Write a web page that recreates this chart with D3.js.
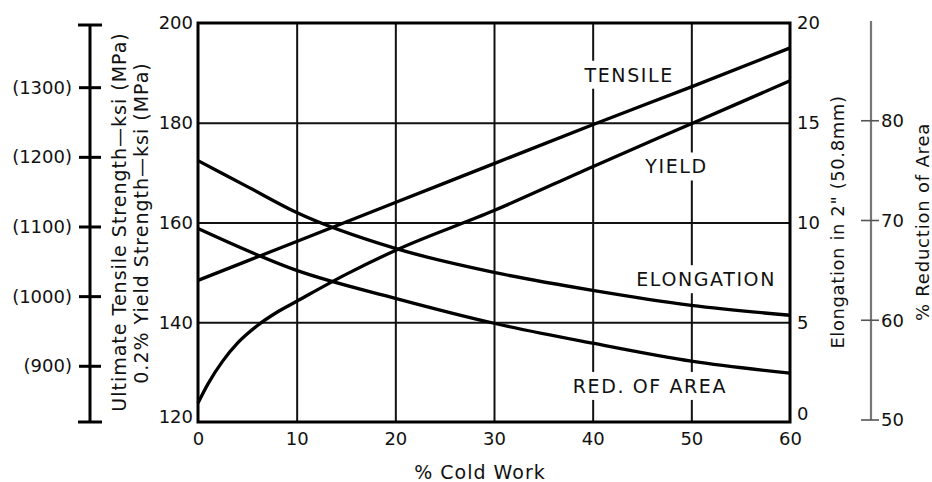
<!DOCTYPE html>
<html>
<head>
<meta charset="utf-8">
<script src="https://cdn.jsdelivr.net/npm/d3@7"></script>
<style>
  body { margin: 0; background: #fff; }
  svg text { font-family: "DejaVu Sans", "Liberation Sans", sans-serif; fill: #111; }
  .axis path.domain { display: none; }
  .grid line { stroke: #111; stroke-width: 2; }
  .curve { fill: none; stroke: #000; stroke-width: 3.3; }
</style>
</head>
<body>
<div class="chart"></div>
<script>
// ---------- DATA
var coldTicks  = [0, 10, 20, 30, 40, 50, 60];
var ksiTicks   = [120, 140, 160, 180, 200];
var elongTicks = [0, 5, 10, 15, 20];
var mpaTicks   = [900, 1000, 1100, 1200, 1300];
var raTicks    = [50, 60, 70, 80];

// tensile strength, ksi
var tensileX   = [0, 10, 20, 30, 40, 50, 60];
var tensileKsi = [148.4, 156.2, 164.0, 171.8, 179.6, 187.2, 195.0];

// 0.2% yield strength, ksi
var yieldX   = [0, 1, 2.5, 4, 6, 8, 10, 15, 20, 30, 40, 50, 60];
var yieldKsi = [123.8, 127.6, 132.2, 135.8, 139.3, 142.0, 144.2, 149.6, 154.4, 162.4, 171.2, 179.8, 188.4];

// elongation in 2", %
var elongX   = [0, 5, 10, 20, 30, 40, 50, 60];
var elongPct = [13.1, 11.8, 10.5, 8.7, 7.5, 6.6, 5.85, 5.35];

// reduction of area, %
var raX   = [0, 10, 20, 30, 40, 50, 60];
var raPct = [69.2, 65.0, 62.2, 59.7, 57.7, 55.9, 54.7];

// curve labels (x in % cold work, y in ksi)
var labelText = ["TENSILE", "YIELD", "ELONGATION", "RED. OF AREA"];
var labelX    = [43.7, 48.5, 51.5, 45.8];
var labelKsi  = [189.6, 171.2, 148.6, 127.2];

// ---------- LAYOUT
var width = 932, height = 482;
var margin = {left: 198, top: 23, right: 142, bottom: 60};
var w = width - margin.left - margin.right;   // 592
var h = height - margin.top - margin.bottom;  // 399

var svg = d3.select(".chart").append("svg")
  .attr("width", width)
  .attr("height", height);

var x = d3.scaleLinear().domain([0, 60]).range([margin.left, margin.left + w]);
var y = d3.scaleLinear().domain([120, 200]).range([margin.top + h, margin.top]);
var yElong = d3.scaleLinear().domain([0, 20]).range([margin.top + h, margin.top]);
var yMpa = d3.scaleLinear().domain([820, 1390]).range([margin.top + h, margin.top + 2]);
var yRa = d3.scaleLinear().domain([50, 90]).range([margin.top + h - 2, margin.top - 2]);

// ---------- GRID
svg.append("g")
  .attr("class", "grid")
  .attr("transform", "translate(0," + (margin.top + h) + ")")
  .call(d3.axisBottom(x).tickValues([10, 20, 30, 40, 50]).tickSize(-h).tickFormat(""))
  .select(".domain").remove();

svg.append("g")
  .attr("class", "grid")
  .attr("transform", "translate(" + margin.left + ",0)")
  .call(d3.axisLeft(y).tickValues([140, 160, 180]).tickSize(-w).tickFormat(""))
  .select(".domain").remove();

// frame
svg.append("rect")
  .attr("x", margin.left).attr("y", margin.top)
  .attr("width", w).attr("height", h)
  .attr("fill", "none").attr("stroke", "#000").attr("stroke-width", 3);

// ---------- CURVES
var line = d3.line()
  .x(function(d) { return x(d[0]); })
  .y(function(d) { return d[1]; })
  .curve(d3.curveMonotoneX);

function pts(xs, ys, scale) {
  return xs.map(function(v, i) { return [v, scale(ys[i])]; });
}

svg.append("path").attr("class", "curve").attr("d", line(pts(tensileX, tensileKsi, y)));
svg.append("path").attr("class", "curve").attr("d", line(pts(yieldX, yieldKsi, y)));
svg.append("path").attr("class", "curve").attr("d", line(pts(elongX, elongPct, yElong)));
svg.append("path").attr("class", "curve").attr("d", line(pts(raX, raPct, yRa)));

// ---------- CURVE LABELS (white boxes cut the grid)
var labels = svg.append("g");
labelText.forEach(function(t, i) {
  var g = labels.append("g");
  var txt = g.append("text")
    .attr("x", x(labelX[i]))
    .attr("y", y(labelKsi[i]))
    .attr("dy", "0.36em")
    .attr("text-anchor", "middle")
    .style("font-size", "19px")
    .style("letter-spacing", "1.6px")
    .text(t);
  var bb = txt.node().getBBox();
  g.insert("rect", "text")
    .attr("x", bb.x - 4).attr("y", bb.y - 3)
    .attr("width", bb.width + 8).attr("height", bb.height + 6)
    .attr("fill", "#fff");
});

// ---------- AXES (labels only)
var xAxis = svg.append("g")
  .attr("class", "axis")
  .attr("transform", "translate(0," + (margin.top + h) + ")")
  .call(d3.axisBottom(x).tickValues(coldTicks).tickSize(0).tickPadding(10));
xAxis.selectAll("text").style("font-size", "18px");

var yAxis = svg.append("g")
  .attr("class", "axis")
  .attr("transform", "translate(" + (margin.left - 4) + ",0)")
  .call(d3.axisLeft(y).tickValues(ksiTicks).tickSize(0).tickPadding(1));
yAxis.selectAll("text").style("font-size", "18px")
  .attr("y", function(d) { return d === 120 ? -5 : 0; });

var eAxis = svg.append("g")
  .attr("class", "axis")
  .attr("transform", "translate(" + (margin.left + w + 6) + ",0)")
  .call(d3.axisRight(yElong).tickValues(elongTicks).tickSize(0).tickPadding(1));
eAxis.selectAll("text").style("font-size", "18px")
  .attr("y", function(d) { return d === 0 ? -8 : 0; });

// MPa axis on the far left
var mpaX = 90;
var mpa = svg.append("g");
mpa.append("line")
  .attr("x1", mpaX).attr("x2", mpaX)
  .attr("y1", yMpa.range()[0]).attr("y2", yMpa.range()[1])
  .attr("stroke", "#000").attr("stroke-width", 3);
mpa.selectAll("line.cap")
  .data(yMpa.range())
  .enter().append("line")
  .attr("class", "cap")
  .attr("x1", mpaX - 12).attr("x2", mpaX + 12)
  .attr("y1", function(d) { return d; }).attr("y2", function(d) { return d; })
  .attr("stroke", "#000").attr("stroke-width", 3);
mpa.selectAll("line.tick")
  .data(mpaTicks)
  .enter().append("line")
  .attr("class", "tick")
  .attr("x1", mpaX - 11).attr("x2", mpaX + 11)
  .attr("y1", function(d) { return yMpa(d); }).attr("y2", function(d) { return yMpa(d); })
  .attr("stroke", "#000").attr("stroke-width", 3);
mpa.selectAll("text")
  .data(mpaTicks)
  .enter().append("text")
  .attr("x", mpaX - 18)
  .attr("y", function(d) { return yMpa(d); })
  .attr("dy", "0.34em")
  .attr("text-anchor", "end")
  .style("font-size", "18px")
  .text(function(d) { return "(" + d + ")"; });

// % reduction of area axis on the far right
var raXpos = 871;
var ra = svg.append("g");
ra.append("line")
  .attr("x1", raXpos).attr("x2", raXpos)
  .attr("y1", yRa(50)).attr("y2", yRa(90))
  .attr("stroke", "#777").attr("stroke-width", 2.2);
ra.selectAll("line.tick")
  .data(raTicks)
  .enter().append("line")
  .attr("class", "tick")
  .attr("x1", raXpos - 10).attr("x2", raXpos + 8)
  .attr("y1", function(d) { return yRa(d); }).attr("y2", function(d) { return yRa(d); })
  .attr("stroke", "#555").attr("stroke-width", 1.6);
ra.selectAll("text")
  .data(raTicks)
  .enter().append("text")
  .attr("x", raXpos + 10)
  .attr("y", function(d) { return yRa(d); })
  .attr("dy", "0.36em")
  .style("font-size", "18px")
  .text(function(d) { return d; });

// ---------- TITLES
function vTitle(cx, cy, t, size, spacing) {
  svg.append("text")
    .attr("transform", "translate(" + cx + "," + cy + ") rotate(-90)")
    .attr("text-anchor", "middle")
    .attr("dy", "0.36em")
    .style("font-size", size)
    .style("letter-spacing", spacing)
    .text(t);
}
vTitle(119, 222, "Ultimate Tensile Strength\u2014ksi (MPa)", "19px", "1px");
vTitle(141, 223, "0.2% Yield Strength\u2014ksi (MPa)", "19px", "1px");
vTitle(838, 222, "Elongation in 2\" (50.8mm)", "18px", "0.6px");
vTitle(923, 222, "% Reduction of Area", "18px", "0.8px");

svg.append("text")
  .attr("x", 480).attr("y", 472)
  .attr("text-anchor", "middle")
  .attr("dy", "0.36em")
  .style("font-size", "19px")
  .style("letter-spacing", "1px")
  .text("% Cold Work");
</script>
</body>
</html>
